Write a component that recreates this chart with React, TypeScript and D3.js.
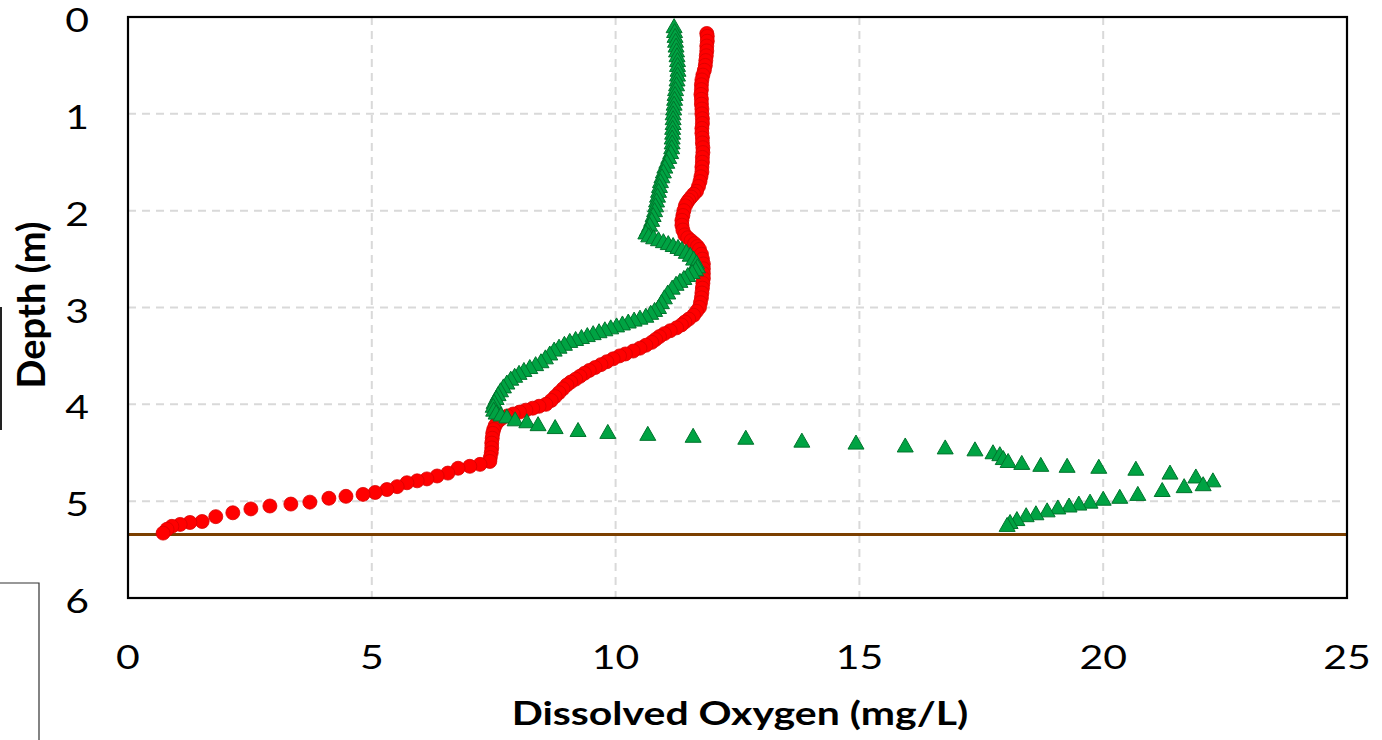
import React from "react";
import * as d3 from "d3";

// [depth (m), dissolved oxygen (mg/L)]
const redSeries: [number, number][] = [
  [0.17, 11.87], [0.2, 11.88], [0.25, 11.88], [0.3, 11.87], [0.35, 11.87], [0.4, 11.86], [0.45, 11.85], [0.5, 11.84],
  [0.55, 11.82], [0.6, 11.79], [0.65, 11.77], [0.7, 11.76], [0.75, 11.76], [0.8, 11.75], [0.85, 11.76], [0.9, 11.76],
  [0.95, 11.77], [1.0, 11.77], [1.05, 11.78], [1.1, 11.78], [1.15, 11.77], [1.2, 11.77], [1.25, 11.78], [1.3, 11.78],
  [1.35, 11.79], [1.4, 11.79], [1.45, 11.78], [1.5, 11.78], [1.55, 11.77], [1.6, 11.77], [1.65, 11.75], [1.7, 11.73],
  [1.75, 11.7], [1.8, 11.66], [1.83, 11.6], [1.86, 11.55], [1.89, 11.5], [1.92, 11.46], [1.95, 11.43], [2.0, 11.4],
  [2.05, 11.38], [2.1, 11.36], [2.15, 11.36], [2.2, 11.38], [2.25, 11.42], [2.28, 11.48], [2.31, 11.55], [2.34, 11.62],
  [2.37, 11.68], [2.4, 11.72], [2.45, 11.76], [2.5, 11.78], [2.55, 11.8], [2.6, 11.8], [2.65, 11.8], [2.7, 11.8],
  [2.75, 11.79], [2.8, 11.78], [2.85, 11.77], [2.9, 11.76], [2.95, 11.74], [3.0, 11.72], [3.04, 11.66], [3.08, 11.6],
  [3.12, 11.5], [3.15, 11.42], [3.18, 11.35], [3.21, 11.25], [3.24, 11.12], [3.27, 11.0], [3.3, 10.9], [3.33, 10.82],
  [3.36, 10.74], [3.39, 10.62], [3.42, 10.5], [3.45, 10.36], [3.48, 10.2], [3.5, 10.08], [3.53, 9.95], [3.56, 9.82],
  [3.59, 9.7], [3.62, 9.58], [3.65, 9.46], [3.68, 9.36], [3.71, 9.27], [3.74, 9.18], [3.77, 9.08], [3.8, 9.0],
  [3.84, 8.92], [3.88, 8.84], [3.92, 8.76], [3.96, 8.68], [4.0, 8.57], [4.02, 8.43], [4.04, 8.3], [4.06, 8.16],
  [4.08, 8.03], [4.1, 7.9], [4.12, 7.78], [4.15, 7.65], [4.18, 7.58], [4.22, 7.53], [4.26, 7.5], [4.3, 7.48],
  [4.35, 7.47], [4.4, 7.46], [4.45, 7.46], [4.5, 7.45], [4.55, 7.43],
  [4.59, 7.42], [4.62, 7.22], [4.64, 7.01], [4.66, 6.77], [4.71, 6.56], [4.74, 6.34], [4.77, 6.13], [4.79, 5.93],
  [4.81, 5.72], [4.85, 5.52], [4.88, 5.31], [4.91, 5.07], [4.93, 4.82], [4.95, 4.47], [4.97, 4.12], [5.01, 3.73],
  [5.03, 3.34], [5.05, 2.91], [5.08, 2.52], [5.12, 2.15], [5.16, 1.8], [5.21, 1.52], [5.22, 1.27], [5.24, 1.07],
  [5.26, 0.9], [5.29, 0.8], [5.33, 0.72],
];

const greenSeries: [number, number][] = [
  [0.1, 11.2], [0.15, 11.21], [0.2, 11.22], [0.25, 11.23], [0.3, 11.24], [0.35, 11.25], [0.4, 11.26], [0.45, 11.27],
  [0.5, 11.27], [0.55, 11.28], [0.6, 11.27], [0.65, 11.26], [0.7, 11.25], [0.75, 11.23], [0.8, 11.22], [0.85, 11.21],
  [0.9, 11.2], [0.95, 11.19], [1.0, 11.18], [1.05, 11.18], [1.1, 11.18], [1.15, 11.17], [1.2, 11.17], [1.25, 11.16],
  [1.3, 11.16], [1.35, 11.15], [1.4, 11.13], [1.45, 11.09], [1.5, 11.05], [1.55, 11.01], [1.6, 10.98], [1.65, 10.95],
  [1.7, 10.92], [1.75, 10.9], [1.8, 10.88], [1.85, 10.86], [1.9, 10.84], [1.95, 10.82], [2.0, 10.8], [2.05, 10.77],
  [2.1, 10.74], [2.15, 10.7], [2.2, 10.65], [2.23, 10.62], [2.26, 10.68], [2.28, 10.78], [2.3, 10.88], [2.32, 10.98],
  [2.34, 11.08], [2.36, 11.18], [2.38, 11.28], [2.4, 11.36], [2.43, 11.45], [2.46, 11.53], [2.5, 11.6], [2.54, 11.66],
  [2.58, 11.68], [2.61, 11.64], [2.64, 11.57], [2.67, 11.48], [2.7, 11.4], [2.73, 11.32], [2.76, 11.24], [2.8, 11.16],
  [2.85, 11.07], [2.9, 11.0], [2.95, 10.94], [3.0, 10.88], [3.03, 10.8], [3.06, 10.72], [3.09, 10.62], [3.11, 10.5],
  [3.13, 10.38], [3.15, 10.26], [3.17, 10.14], [3.19, 10.02], [3.21, 9.9], [3.23, 9.78], [3.25, 9.66], [3.27, 9.54],
  [3.29, 9.42], [3.31, 9.3], [3.33, 9.18], [3.35, 9.06], [3.38, 8.95], [3.41, 8.84], [3.44, 8.74], [3.48, 8.65],
  [3.52, 8.56], [3.56, 8.47], [3.59, 8.36], [3.62, 8.24], [3.65, 8.12], [3.68, 8.02], [3.71, 7.93], [3.74, 7.85],
  [3.78, 7.77], [3.82, 7.7], [3.86, 7.64], [3.9, 7.59], [3.94, 7.55], [3.98, 7.51], [4.02, 7.49], [4.06, 7.5],
  [4.09, 7.55], [4.11, 7.65], [4.13, 7.77],
  [4.16, 7.94], [4.18, 8.18], [4.21, 8.41], [4.24, 8.76], [4.27, 9.23], [4.29, 9.84], [4.31, 10.66], [4.33, 11.59],
  [4.35, 12.67], [4.38, 13.82], [4.4, 14.93], [4.43, 15.94], [4.45, 16.76], [4.47, 17.37], [4.5, 17.74], [4.52, 17.88],
  [4.56, 17.95], [4.59, 18.05], [4.61, 18.33], [4.63, 18.72], [4.64, 19.26], [4.65, 19.91], [4.67, 20.67], [4.71, 21.37],
  [4.75, 21.9], [4.79, 22.25], [4.83, 22.05], [4.85, 21.66], [4.89, 21.21], [4.93, 20.71], [4.96, 20.34], [4.98, 20.0],
  [5.01, 19.73], [5.03, 19.5], [5.05, 19.3], [5.07, 19.07], [5.1, 18.85], [5.13, 18.62], [5.15, 18.42], [5.19, 18.23],
  [5.22, 18.09], [5.25, 18.03],
];

const bottomDepth = 5.345;
const xTicks = [0, 5, 10, 15, 20, 25];
const yTicks = [0, 1, 2, 3, 4, 5, 6];
const xTitle = "Dissolved Oxygen (mg/L)";
const yTitle = "Depth (m)";

const W = 1382;
const H = 740;
const L = 128, R = 1347, T = 17, B = 598;

export default function App() {
  const x = d3.scaleLinear().domain([0, 25]).range([L, R]);
  const y = d3.scaleLinear().domain([0, 6]).range([T, B]);
  const font = "Lato, 'Open Sans', sans-serif";
  const tri = "M0,-8 L8,6 L-8,6 Z";
  const sx = 1.28;
  return (
    <svg width={W} height={H} style={{ position: "absolute", left: 0, top: 0, background: "#fff" }}>
      <rect x={0} y={0} width={W} height={H} fill="#fff" />
      {/* grid */}
      {xTicks.filter((t) => t > 0 && t < 25).map((t) => (
        <line key={"gx" + t} x1={x(t)} x2={x(t)} y1={T} y2={B} stroke="#D9D9D9" strokeWidth={2} strokeDasharray="8,6" />
      ))}
      {yTicks.filter((t) => t > 0 && t < 6).map((t) => (
        <line key={"gy" + t} x1={L} x2={R} y1={y(t)} y2={y(t)} stroke="#D9D9D9" strokeWidth={2} strokeDasharray="8,6" />
      ))}
      {/* bottom line */}
      <line x1={L} x2={R} y1={y(bottomDepth)} y2={y(bottomDepth)} stroke="#7B3F00" strokeWidth={3} />
      {/* red series */}
      {redSeries.map(([d, v], i) => (
        <circle key={"r" + i} cx={x(v)} cy={y(d)} r={7} fill="#FF0000" stroke="#D80000" strokeWidth={0.8} />
      ))}
      {/* green series */}
      {greenSeries.map(([d, v], i) => (
        <path key={"g" + i} d={tri} transform={`translate(${x(v)},${y(d)})`} fill="#00A343" stroke="#00742C" strokeWidth={1} />
      ))}
      {/* frame */}
      <rect x={L} y={T} width={R - L} height={B - T} fill="none" stroke="#000" strokeWidth={2.2} />
      {/* ticks */}
      {yTicks.map((t) => (
        <text key={"ty" + t} transform={`translate(89,${y(t) + 15}) scale(${sx},1)`} textAnchor="end" fontFamily={font} fontSize={32} fill="#000">
          {t}
        </text>
      ))}
      {xTicks.map((t) => (
        <text key={"tx" + t} transform={`translate(${x(t)},669) scale(${sx},1)`} textAnchor="middle" fontFamily={font} fontSize={32} fill="#000">
          {t}
        </text>
      ))}
      <text transform={`translate(740,725) scale(1.28,1)`} textAnchor="middle" fontFamily={font} fontSize={32} fontWeight="bold" fill="#000">
        {xTitle}
      </text>
      <text transform={`translate(45,305) rotate(-90)`} textAnchor="middle" fontFamily={font} fontSize={38} fontWeight="bold" fill="#000">
        {yTitle}
      </text>
      {/* crop artifacts at left edge */}
      <line x1={1} x2={1} y1={307} y2={430} stroke="#222" strokeWidth={2} />
      <path d="M0,583 L39,583 L39,740" fill="none" stroke="#333" strokeWidth={1.2} />
    </svg>
  );
}
